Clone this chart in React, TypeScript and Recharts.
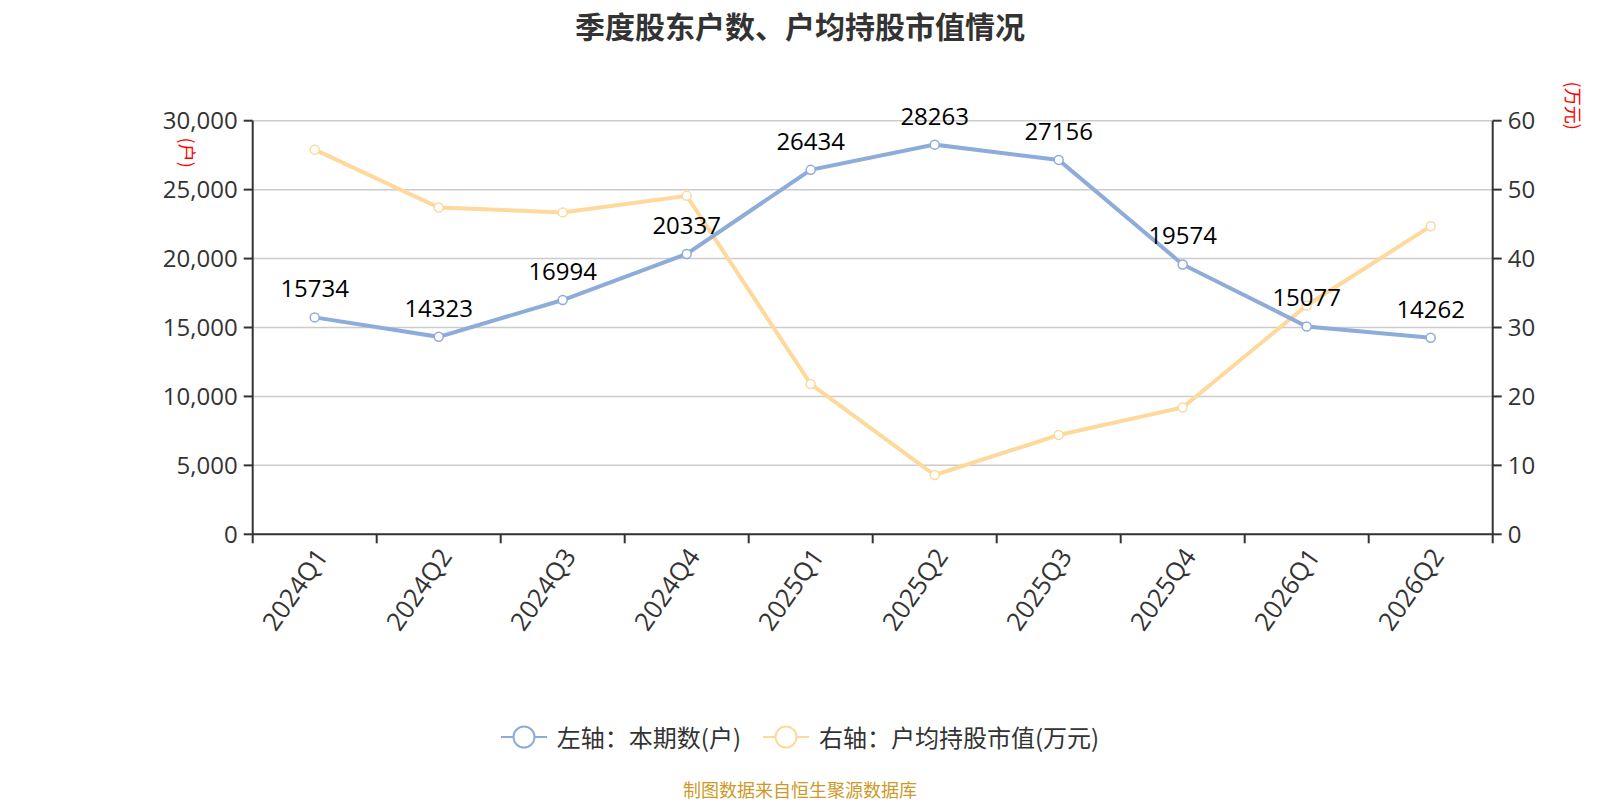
import React from "react";
import {
  LineChart,
  Line,
  XAxis,
  YAxis,
  CartesianGrid,
  LabelList,
} from "recharts";

const quarters = [
  "2024Q1",
  "2024Q2",
  "2024Q3",
  "2024Q4",
  "2025Q1",
  "2025Q2",
  "2025Q3",
  "2025Q4",
  "2026Q1",
  "2026Q2",
];
const holders = [15734, 14323, 16994, 20337, 26434, 28263, 27156, 19574, 15077, 14262];
const avgValue = [55.8, 47.4, 46.7, 49.1, 21.8, 8.6, 14.4, 18.4, 33.2, 44.7];
const leftTicks = [0, 5000, 10000, 15000, 20000, 25000, 30000];
const rightTicks = [0, 10, 20, 30, 40, 50, 60];

const BLUE = "#8eacd9";
const YELLOW = "#fed99b";
const AXIS = "#333333";
const FONT = "'Open Sans', 'Noto Sans CJK SC', sans-serif";
const CJK = "'Noto Sans CJK SC', sans-serif";

const data = quarters.map((q, i) => ({ q, holders: holders[i], avg: avgValue[i] }));

function QuarterTick(props: any) {
  const { x, y, payload, index } = props;
  const half = payload && payload.offset ? payload.offset : 62;
  const tx = x + 7;
  const ty = y + 17;
  return (
    <g>
      <line x1={x - half} y1={y} x2={x - half} y2={y + 9} stroke={AXIS} strokeWidth={2} />
      {index === quarters.length - 1 && (
        <line x1={x + half} y1={y} x2={x + half} y2={y + 9} stroke={AXIS} strokeWidth={2} />
      )}
      <text
        x={tx}
        y={ty}
        dy="0.35em"
        textAnchor="end"
        fill={AXIS}
        fontSize={25.5}
        fontFamily={FONT}
        transform={`rotate(-55, ${tx}, ${ty})`}
      >
        {payload.value}
      </text>
    </g>
  );
}

function LegendIcon({ color }: { color: string }) {
  return (
    <svg width={46} height={26}>
      <line x1={0} y1={13} x2={46} y2={13} stroke={color} strokeWidth={2} />
      <circle cx={23} cy={13} r={10.5} fill="#fff" stroke={color} strokeWidth={2} />
    </svg>
  );
}

export default function App() {
  return (
    <div style={{ position: "absolute", left: 0, top: 0, width: 1600, height: 800, background: "#fff" }}>
      <div
        style={{
          position: "absolute",
          top: 3,
          left: 0,
          width: 1600,
          textAlign: "center",
          fontSize: 30,
          fontWeight: "bold",
          color: "#333",
          fontFamily: CJK,
        }}
      >
        季度股东户数、户均持股市值情况
      </div>
      <LineChart
        width={1600}
        height={800}
        data={data}
        margin={{ top: 120.7, right: 27.3, bottom: 145.7, left: 172.7 }}
      >
        <CartesianGrid vertical={false} stroke="#cccccc" strokeWidth={1.5} yAxisId="left" />
        <XAxis
          dataKey="q"
          scale="band"
          height={120}
          tickSize={0}
          tickMargin={0}
          tickLine={false}
          axisLine={{ stroke: AXIS, strokeWidth: 2 }}
          tick={<QuarterTick />}
          interval={0}
        />
        <YAxis
          yAxisId="left"
          width={80}
          domain={[0, 30000]}
          ticks={leftTicks}
          tickFormatter={(v: number) => v.toLocaleString("en-US")}
          tick={{ fill: AXIS, fontSize: 24, fontFamily: FONT }}
          tickSize={9}
          tickMargin={6}
          tickLine={{ stroke: AXIS, strokeWidth: 2 }}
          axisLine={{ stroke: AXIS, strokeWidth: 2 }}
          label={(p: any) => {
            const vb = p.viewBox || { x: 172.7, y: 120.7 };
            const lx = vb.x + 14;
            const ly = vb.y + 32;
            return (
              <text
                x={lx}
                y={ly}
                fill="#ff0000"
                fontSize={18}
                textAnchor="middle"
                dy="0.35em"
                fontFamily={CJK}
                transform={`rotate(90, ${lx}, ${ly})`}
              >
                (户)
              </text>
            );
          }}
        />
        <YAxis
          yAxisId="right"
          orientation="right"
          width={80}
          domain={[0, 60]}
          ticks={rightTicks}
          tick={{ fill: AXIS, fontSize: 24, fontFamily: FONT }}
          tickSize={9}
          tickMargin={6}
          tickLine={{ stroke: AXIS, strokeWidth: 2 }}
          axisLine={{ stroke: AXIS, strokeWidth: 2 }}
          label={(p: any) => {
            const vb = p.viewBox || { x: 1492.7, y: 120.7 };
            const lx = vb.x + 80;
            const ly = vb.y - 15;
            return (
              <text
                x={lx}
                y={ly}
                fill="#ff0000"
                fontSize={18}
                textAnchor="middle"
                dy="0.35em"
                fontFamily={CJK}
                transform={`rotate(90, ${lx}, ${ly})`}
              >
                (万元)
              </text>
            );
          }}
        />
        <Line
          yAxisId="right"
          dataKey="avg"
          stroke={YELLOW}
          strokeWidth={4}
          dot={{ r: 4.5, fill: "#fff", stroke: YELLOW, strokeWidth: 1.5 }}
          isAnimationActive={false}
        />
        <Line
          yAxisId="left"
          dataKey="holders"
          stroke={BLUE}
          strokeWidth={4}
          dot={{ r: 4.5, fill: "#fff", stroke: BLUE, strokeWidth: 1.5 }}
          isAnimationActive={false}
        >
          <LabelList dataKey="holders" position="top" offset={20} fill="#000" fontSize={24} fontFamily={FONT} />
        </Line>
      </LineChart>
      <div
        style={{
          position: "absolute",
          top: 719,
          left: 0,
          width: 1600,
          display: "flex",
          justifyContent: "center",
          alignItems: "center",
          fontSize: 24,
          color: "#333",
          fontFamily: CJK,
        }}
      >
        <LegendIcon color={BLUE} />
        <span style={{ marginLeft: 10, marginRight: 22 }}>左轴：本期数(户)</span>
        <LegendIcon color={YELLOW} />
        <span style={{ marginLeft: 10 }}>右轴：户均持股市值(万元)</span>
      </div>
      <div
        style={{
          position: "absolute",
          top: 778,
          left: 0,
          width: 1600,
          height: 22,
          lineHeight: "22px",
          textAlign: "center",
          fontSize: 18,
          color: "#cc9a2a",
          fontFamily: CJK,
        }}
      >
        制图数据来自恒生聚源数据库
      </div>
    </div>
  );
}
